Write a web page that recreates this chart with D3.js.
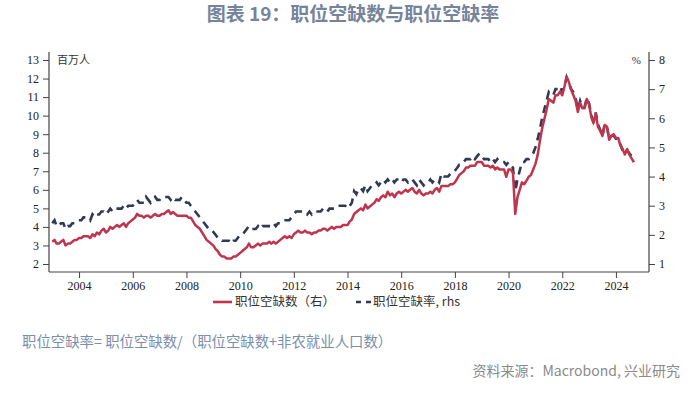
<!DOCTYPE html>
<html>
<head>
<meta charset="utf-8">
<script src="https://cdn.jsdelivr.net/npm/d3@7"></script>
<style>
  body { margin: 0; background: #fff; }
  svg { display: block; }
</style>
</head>
<body>
<div id="chart"></div>
<script>
var width = 700;
var height = 393;

// monthly, Jan 2003 .. Sep 2024
var startYear = 2003;

// 职位空缺数, 百万人 (left axis)
var openings = [
  3.2, 3.3, 3.1, 3.1, 3.2, 3.3, 3.0, 3.1, 3.1, 3.2, 3.3, 3.3, // 2003
  3.4, 3.4, 3.5, 3.5, 3.5, 3.4, 3.6, 3.5, 3.7, 3.6, 3.8, 3.9, // 2004
  3.7, 3.8, 4.0, 3.9, 4.0, 4.1, 4.0, 4.1, 4.2, 4.0, 4.2, 4.3, // 2005
  4.4, 4.5, 4.7, 4.6, 4.6, 4.5, 4.6, 4.6, 4.5, 4.6, 4.7, 4.6, // 2006
  4.6, 4.7, 4.7, 4.8, 4.9, 4.7, 4.8, 4.7, 4.6, 4.6, 4.6, 4.6, // 2007
  4.6, 4.5, 4.5, 4.3, 4.1, 4.0, 3.9, 3.7, 3.5, 3.3, 3.2, 3.1, // 2008
  3.0, 2.8, 2.7, 2.5, 2.4, 2.4, 2.3, 2.3, 2.3, 2.4, 2.4, 2.5, // 2009
  2.6, 2.7, 2.8, 2.9, 3.1, 2.9, 2.9, 3.0, 3.1, 3.0, 3.1, 3.1, // 2010
  3.1, 3.2, 3.1, 3.2, 3.1, 3.2, 3.3, 3.4, 3.5, 3.4, 3.5, 3.4, // 2011
  3.6, 3.7, 3.8, 3.7, 3.7, 3.8, 3.7, 3.7, 3.6, 3.7, 3.7, 3.8, // 2012
  3.8, 3.9, 3.9, 3.8, 3.9, 4.0, 3.9, 4.0, 4.0, 4.0, 4.1, 4.1, // 2013
  4.1, 4.3, 4.4, 4.7, 4.8, 4.9, 5.0, 4.9, 5.2, 5.0, 5.1, 5.2, // 2014
  5.3, 5.5, 5.4, 5.6, 5.7, 5.6, 5.9, 5.7, 5.8, 5.6, 5.8, 5.9, // 2015
  5.8, 5.9, 6.0, 5.9, 6.0, 6.1, 5.9, 5.8, 6.0, 5.8, 5.7, 5.8, // 2016
  5.8, 5.9, 5.8, 6.0, 6.1, 5.9, 6.2, 6.2, 6.2, 6.2, 6.3, 6.3, // 2017
  6.4, 6.6, 6.8, 6.9, 7.0, 7.2, 7.2, 7.3, 7.3, 7.3, 7.5, 7.5, // 2018
  7.5, 7.3, 7.3, 7.3, 7.2, 7.3, 7.1, 7.2, 7.1, 7.1, 7.1, 6.7, // 2019
  7.1, 7.1, 6.9, 4.7, 5.6, 6.0, 6.4, 6.3, 6.5, 6.7, 6.8, 7.1, // 2020
  7.4, 7.9, 8.6, 9.3, 9.8, 10.3, 10.9, 10.8, 10.7, 11.1, 11.1, 11.3, // 2021
  11.1, 11.6, 12.1, 11.8, 11.4, 11.1, 10.8, 10.2, 10.7, 10.4, 10.4, 10.9, // 2022
  10.6, 9.9, 9.6, 10.1, 9.4, 9.2, 8.9, 9.5, 9.4, 8.7, 8.9, 9.0, // 2023
  8.8, 8.8, 8.4, 8.2, 7.9, 8.2, 7.9, 7.7, 7.5 // 2024
];

// 职位空缺率, % (right axis)
var rate = [
  2.4, 2.5, 2.3, 2.3, 2.4, 2.4, 2.2, 2.3, 2.3, 2.4, 2.4, 2.5, // 2003
  2.5, 2.5, 2.6, 2.6, 2.6, 2.5, 2.7, 2.6, 2.7, 2.7, 2.8, 2.8, // 2004
  2.7, 2.8, 2.9, 2.8, 2.9, 2.9, 2.9, 2.9, 3.0, 2.9, 3.0, 3.0, // 2005
  3.0, 3.1, 3.2, 3.1, 3.1, 3.1, 3.3, 3.2, 3.1, 3.2, 3.3, 3.2, // 2006
  3.2, 3.3, 3.3, 3.3, 3.3, 3.2, 3.3, 3.2, 3.2, 3.2, 3.3, 3.2, // 2007
  3.1, 3.1, 3.0, 2.9, 2.8, 2.7, 2.6, 2.5, 2.4, 2.3, 2.2, 2.2, // 2008
  2.1, 2.0, 1.9, 1.9, 1.8, 1.8, 1.8, 1.8, 1.7, 1.8, 1.8, 1.9, // 2009
  2.0, 2.0, 2.1, 2.2, 2.3, 2.2, 2.2, 2.2, 2.3, 2.2, 2.3, 2.3, // 2010
  2.3, 2.3, 2.3, 2.4, 2.3, 2.4, 2.4, 2.5, 2.5, 2.5, 2.5, 2.6, // 2011
  2.7, 2.8, 2.8, 2.8, 2.8, 2.8, 2.7, 2.8, 2.7, 2.8, 2.8, 2.8, // 2012
  2.8, 2.9, 2.8, 2.8, 2.9, 2.9, 2.9, 3.0, 3.0, 3.0, 3.0, 3.0, // 2013
  2.9, 3.0, 3.1, 3.5, 3.4, 3.6, 3.6, 3.5, 3.7, 3.5, 3.6, 3.7, // 2014
  3.7, 3.8, 3.7, 3.8, 3.9, 3.8, 3.9, 3.8, 3.9, 3.8, 3.9, 3.9, // 2015
  3.8, 3.9, 3.9, 3.8, 3.9, 3.9, 3.8, 3.7, 3.9, 3.8, 3.7, 3.8, // 2016
  3.8, 3.9, 3.8, 3.9, 3.9, 3.8, 4.1, 4.0, 4.0, 4.0, 4.1, 4.1, // 2017
  4.2, 4.3, 4.4, 4.4, 4.5, 4.6, 4.6, 4.6, 4.7, 4.6, 4.7, 4.8, // 2018
  4.7, 4.6, 4.6, 4.6, 4.5, 4.6, 4.5, 4.6, 4.5, 4.5, 4.5, 4.4, // 2019
  4.5, 4.4, 4.3, 3.5, 3.9, 4.2, 4.5, 4.5, 4.6, 4.6, 4.7, 4.8, // 2020
  5.0, 5.3, 5.6, 6.0, 6.3, 6.6, 6.9, 6.8, 6.8, 7.0, 7.0, 7.1, // 2021
  6.9, 7.1, 7.4, 7.2, 7.0, 6.9, 6.7, 6.3, 6.6, 6.4, 6.4, 6.7, // 2022
  6.5, 6.1, 5.9, 6.2, 5.8, 5.6, 5.4, 5.8, 5.7, 5.3, 5.4, 5.4, // 2023
  5.3, 5.3, 5.1, 4.9, 4.8, 4.9, 4.8, 4.7, 4.5 // 2024
];

var leftTicks = [2, 3, 4, 5, 6, 7, 8, 9, 10, 11, 12, 13];
var rightTicks = [1, 2, 3, 4, 5, 6, 7, 8];
var yearTicks = [2004, 2006, 2008, 2010, 2012, 2014, 2016, 2018, 2020, 2022, 2024];

var titleText = "图表 19：职位空缺数与职位空缺率";
var seriesNames = ["职位空缺数（右）", "职位空缺率, rhs"];
var noteText = "职位空缺率= 职位空缺数/（职位空缺数+非农就业人口数）";
var sourceText = "资料来源：Macrobond, 兴业研究";

var redColor = "#c0354e";
var navyColor = "#2f3a55";
var axisColor = "#444";

var plotLeft = 49;
var plotRight = 649;
var plotTop = 52;
var plotBottom = 272;

var cjk = "'Noto Sans CJK SC', 'Noto Sans', sans-serif";
var serif = "'Liberation Serif', 'DejaVu Serif', serif";

function monthDate(i) {
    return new Date(startYear + Math.floor(i / 12), i % 12, 1);
}

var svg = d3.select("#chart").append("svg")
    .attr("width", width)
    .attr("height", height);

var x = d3.scaleTime()
    .domain([new Date(2002, 10, 18), new Date(2025, 2, 26)])
    .range([plotLeft, plotRight]);

var yLeft = d3.scaleLinear().domain([2, 13]).range([264, 60]);
var yRight = d3.scaleLinear().domain([1, 8]).range([264, 60]);

// title
svg.append("text")
    .attr("x", 353)
    .attr("y", 21)
    .attr("text-anchor", "middle")
    .attr("font-family", cjk)
    .attr("font-size", "19px")
    .attr("font-weight", "bold")
    .attr("fill", "#75849a")
    .text(titleText);

// axes
var leftAxis = svg.append("g")
    .attr("transform", "translate(" + plotLeft + ",0)")
    .call(d3.axisLeft(yLeft).tickValues(leftTicks).tickSize(6).tickPadding(4));

var rightAxis = svg.append("g")
    .attr("transform", "translate(" + plotRight + ",0)")
    .call(d3.axisRight(yRight).tickValues(rightTicks).tickFormat(d3.format("d")).tickSize(6).tickPadding(4));

var bottomAxis = svg.append("g")
    .attr("transform", "translate(0," + plotBottom + ")")
    .call(d3.axisBottom(x)
        .tickValues(yearTicks.map(function (y) { return new Date(y, 0, 1); }))
        .tickFormat(d3.timeFormat("%Y"))
        .tickSize(6)
        .tickPadding(3));

[leftAxis, rightAxis, bottomAxis].forEach(function (g) {
    g.select(".domain").remove();
    g.selectAll("line").attr("stroke", axisColor);
    g.selectAll("text")
        .attr("font-family", serif)
        .attr("font-size", "12px")
        .attr("fill", "#222");
});

// frame lines
svg.append("line")
    .attr("x1", plotLeft).attr("y1", plotTop)
    .attr("x2", plotLeft).attr("y2", plotBottom)
    .attr("stroke", axisColor).attr("stroke-width", 1.2);
svg.append("line")
    .attr("x1", plotRight).attr("y1", plotTop)
    .attr("x2", plotRight).attr("y2", plotBottom)
    .attr("stroke", axisColor).attr("stroke-width", 1.2);
svg.append("line")
    .attr("x1", plotLeft).attr("y1", plotBottom)
    .attr("x2", plotRight).attr("y2", plotBottom)
    .attr("stroke", axisColor).attr("stroke-width", 1.2);

// unit labels
svg.append("text")
    .attr("x", 57).attr("y", 64)
    .attr("font-family", cjk)
    .attr("font-size", "11px")
    .attr("fill", "#333")
    .text("百万人");

svg.append("text")
    .attr("x", 641).attr("y", 64)
    .attr("text-anchor", "end")
    .attr("font-family", serif)
    .attr("font-size", "11px")
    .attr("fill", "#333")
    .text("%");

// lines
var rateLine = d3.line()
    .x(function (d, i) { return x(monthDate(i)); })
    .y(function (d) { return yRight(d); });

var openingsLine = d3.line()
    .x(function (d, i) { return x(monthDate(i)); })
    .y(function (d) { return yLeft(d); });

svg.append("path")
    .datum(rate)
    .attr("d", rateLine)
    .attr("fill", "none")
    .attr("stroke", navyColor)
    .attr("stroke-width", 2.6)
    .attr("stroke-dasharray", "8,6");

svg.append("path")
    .datum(openings)
    .attr("d", openingsLine)
    .attr("fill", "none")
    .attr("stroke", redColor)
    .attr("stroke-width", 2.5)
    .attr("stroke-linejoin", "round");

// legend
var legend = svg.append("g").attr("transform", "translate(213,306)");

legend.append("line")
    .attr("x1", 0).attr("x2", 19)
    .attr("y1", -4).attr("y2", -4)
    .attr("stroke", redColor)
    .attr("stroke-width", 2.6);

legend.append("text")
    .attr("x", 22).attr("y", 0)
    .attr("font-family", cjk)
    .attr("font-size", "12.5px")
    .attr("fill", "#333")
    .text(seriesNames[0]);

legend.append("line")
    .attr("x1", 143).attr("x2", 158)
    .attr("y1", -4).attr("y2", -4)
    .attr("stroke", navyColor)
    .attr("stroke-width", 2.6)
    .attr("stroke-dasharray", "5,5");

legend.append("text")
    .attr("x", 160).attr("y", 0)
    .attr("font-family", cjk)
    .attr("font-size", "12.5px")
    .attr("fill", "#333")
    .text(seriesNames[1]);

// note and source
svg.append("text")
    .attr("x", 22).attr("y", 347)
    .attr("font-family", cjk)
    .attr("font-size", "14.4px")
    .attr("fill", "#7b8fac")
    .text(noteText);

svg.append("text")
    .attr("x", 680).attr("y", 376)
    .attr("text-anchor", "end")
    .attr("font-family", cjk)
    .attr("font-size", "14px")
    .attr("fill", "#8a8a8a")
    .text(sourceText);
</script>
</body>
</html>
